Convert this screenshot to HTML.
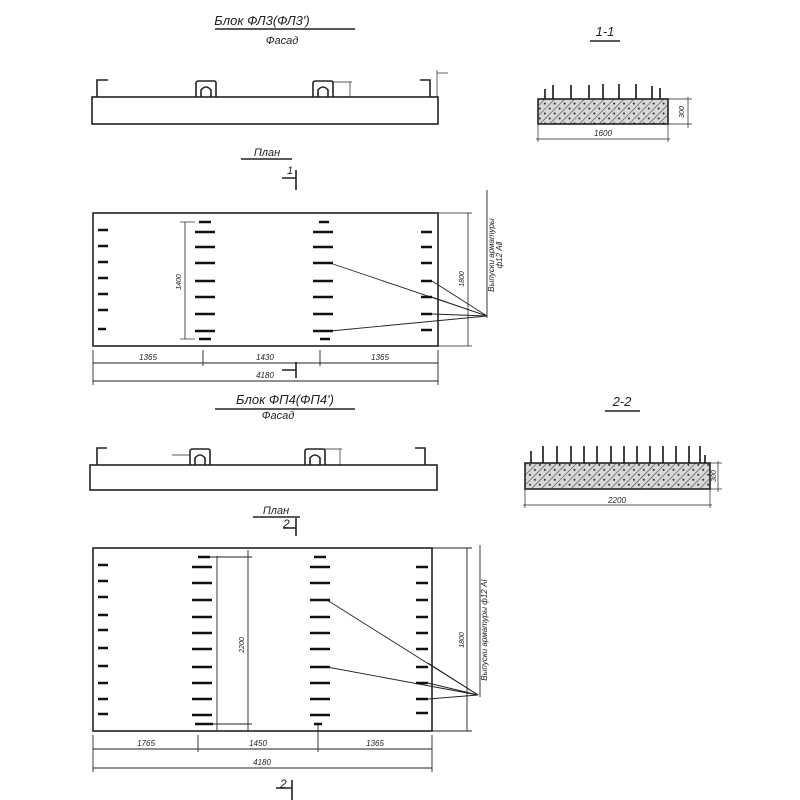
<!DOCTYPE html>
<html><head><meta charset="utf-8"><style>
html,body{margin:0;padding:0;background:#fff}
svg{display:block}
text{font-family:"Liberation Sans","DejaVu Sans",sans-serif;font-style:italic;fill:#222}
</style></head><body>
<svg width="800" height="800" viewBox="0 0 800 800" xmlns="http://www.w3.org/2000/svg">
<defs>
<pattern id="h" width="7" height="7" patternUnits="userSpaceOnUse" patternTransform="rotate(45)">
<rect width="7" height="7" fill="#d8d8d8"/><line x1="0" y1="0" x2="0" y2="7" stroke="#444" stroke-width="1.2"/>
<circle cx="3.5" cy="3" r="1" fill="#222"/></pattern>
</defs>
<g stroke="#222" fill="none" stroke-width="1.6">
<!-- Top facade -->
<line x1="215" y1="29" x2="355" y2="29"/>
<rect x="92" y="97" width="346" height="27"/>
<path d="M97 97 V80 H108"/><path d="M430 97 V80 H420"/>
<path d="M196 97 V83 Q196 81 199 81 H214 Q216 81 216 83 V97 M201 97 V90 Q206 84 211 90 V97"/>
<path d="M313 97 V83 Q313 81 316 81 H331 Q333 81 333 83 V97 M318 97 V90 Q323 84 328 90 V97"/>
<line x1="333" y1="82" x2="352" y2="82" stroke-width="0.7"/>
<line x1="350" y1="82" x2="350" y2="97" stroke-width="0.7"/>
<line x1="437" y1="73" x2="448" y2="73" stroke-width="0.7"/>
<line x1="437" y1="70" x2="437" y2="97" stroke-width="0.7"/>
<line x1="241" y1="159" x2="292" y2="159"/>
<path d="M282 178 H296 M296 170 V190"/>
<!-- Plan 1 -->
<rect x="93" y="213" width="345" height="133"/>
<line x1="185" y1="222" x2="185" y2="339" stroke-width="0.8"/>
<line x1="180" y1="222" x2="195" y2="222" stroke-width="0.7"/>
<line x1="180" y1="339" x2="195" y2="339" stroke-width="0.7"/>
<line x1="468" y1="213" x2="468" y2="346" stroke-width="0.8"/>
<line x1="438" y1="213" x2="472" y2="213" stroke-width="0.7"/>
<line x1="438" y1="346" x2="472" y2="346" stroke-width="0.7"/>
<g stroke-width="0.9">
<line x1="330" y1="263" x2="487" y2="316"/><line x1="330" y1="331" x2="487" y2="316"/>
<line x1="432" y1="281" x2="487" y2="316"/><line x1="432" y1="297" x2="487" y2="316"/><line x1="432" y1="314" x2="487" y2="316"/>
<line x1="487" y1="190" x2="487" y2="318"/>
<line x1="93" y1="363" x2="438" y2="363"/><line x1="93" y1="381" x2="438" y2="381"/>
<line x1="93" y1="350" x2="93" y2="385"/><line x1="203" y1="350" x2="203" y2="366"/><line x1="320" y1="350" x2="320" y2="366"/><line x1="438" y1="350" x2="438" y2="385"/>
</g>
<path d="M282 370 H296 M296 362 V378"/>
<!-- Section 1-1 -->
<line x1="590" y1="41" x2="620" y2="41"/>
<rect x="538" y="99" width="130" height="25" fill="url(#h)"/>
<g stroke-width="1.7"><line x1="545" y1="99" x2="545" y2="89"/><line x1="553" y1="99" x2="553" y2="85"/><line x1="571" y1="99" x2="571" y2="85"/><line x1="589" y1="99" x2="589" y2="85"/><line x1="603" y1="99" x2="603" y2="84"/><line x1="619" y1="99" x2="619" y2="84"/><line x1="636" y1="99" x2="636" y2="84"/><line x1="652" y1="99" x2="652" y2="86"/><line x1="660" y1="99" x2="660" y2="88"/></g>
<g stroke-width="0.7"><line x1="668" y1="99" x2="692" y2="99"/><line x1="668" y1="124" x2="692" y2="124"/><line x1="688" y1="97" x2="688" y2="128"/>
<line x1="538" y1="124" x2="538" y2="142"/><line x1="668" y1="124" x2="668" y2="142"/><line x1="536" y1="139" x2="670" y2="139"/></g>
<!-- Second facade -->
<line x1="215" y1="409" x2="355" y2="409"/>
<rect x="90" y="465" width="347" height="25"/>
<path d="M97 465 V448 H107"/><path d="M425 465 V448 H415"/>
<path d="M190 465 V451 Q190 449 193 449 H208 Q210 449 210 451 V465 M195 465 V458 Q200 452 205 458 V465"/>
<path d="M305 465 V451 Q305 449 308 449 H323 Q325 449 325 451 V465 M310 465 V458 Q315 452 320 458 V465"/>
<line x1="325" y1="449" x2="342" y2="449" stroke-width="0.7"/><line x1="340" y1="449" x2="340" y2="465" stroke-width="0.7"/>
<line x1="172" y1="455" x2="190" y2="455" stroke-width="0.7"/>
<line x1="253" y1="517" x2="300" y2="517"/>
<path d="M283 528 H296 M296 518 V536"/>
<!-- Section 2-2 -->
<line x1="605" y1="411" x2="640" y2="411"/>
<rect x="525" y="463" width="185" height="26" fill="url(#h)"/>
<g stroke-width="1.7"><line x1="531" y1="463" x2="531" y2="451"/><line x1="543" y1="463" x2="543" y2="446"/><line x1="557" y1="463" x2="557" y2="446"/><line x1="571" y1="463" x2="571" y2="446"/><line x1="584" y1="463" x2="584" y2="446"/><line x1="597" y1="463" x2="597" y2="446"/><line x1="611" y1="463" x2="611" y2="446"/><line x1="624" y1="463" x2="624" y2="446"/><line x1="637" y1="463" x2="637" y2="446"/><line x1="650" y1="463" x2="650" y2="446"/><line x1="663" y1="463" x2="663" y2="446"/><line x1="676" y1="463" x2="676" y2="446"/><line x1="689" y1="463" x2="689" y2="446"/><line x1="700" y1="463" x2="700" y2="446"/><line x1="705" y1="463" x2="705" y2="455"/></g>
<g stroke-width="0.7"><line x1="710" y1="463" x2="722" y2="463"/><line x1="710" y1="489" x2="722" y2="489"/><line x1="718" y1="461" x2="718" y2="492"/>
<line x1="525" y1="489" x2="525" y2="508"/><line x1="710" y1="489" x2="710" y2="508"/><line x1="523" y1="505" x2="712" y2="505"/></g>
<!-- Plan 2 -->
<rect x="93" y="548" width="339" height="183"/>
<g stroke-width="0.9">
<line x1="217" y1="556" x2="217" y2="731"/><line x1="248" y1="550" x2="248" y2="731"/>
<line x1="205" y1="557" x2="252" y2="557"/><line x1="205" y1="724" x2="252" y2="724"/>
<line x1="467" y1="548" x2="467" y2="731"/>
<line x1="432" y1="548" x2="472" y2="548"/><line x1="432" y1="731" x2="472" y2="731"/>
<line x1="327" y1="600" x2="478" y2="695"/><line x1="327" y1="667" x2="478" y2="695"/>
<line x1="428" y1="663" x2="478" y2="695"/><line x1="428" y1="683" x2="478" y2="695"/><line x1="428" y1="699" x2="478" y2="695"/>
<line x1="480" y1="545" x2="480" y2="697"/>
<line x1="93" y1="749" x2="432" y2="749"/><line x1="93" y1="768" x2="432" y2="768"/>
<line x1="93" y1="735" x2="93" y2="772"/><line x1="198" y1="735" x2="198" y2="752"/><line x1="318" y1="725" x2="318" y2="752"/><line x1="432" y1="735" x2="432" y2="772"/>
</g>
<path d="M276 788 H292 M292 780 V800"/>
</g>
<!-- Rebar dashes -->
<g stroke="#111" stroke-width="2.4">
<path d="M98 230h10M98 246h10M98 262h10M98 278h10M98 294h10M98 310h10M98 329h8"/>
<path d="M199 222h12M195 232h20M195 247h20M195 263h20M195 281h20M195 297h20M195 314h20M195 331h20M199 339h12"/>
<path d="M319 222h10M313 232h20M313 247h20M313 263h20M313 281h20M313 297h20M313 314h20M313 331h20M320 339h10"/>
<path d="M421 232h11M421 247h11M421 263h11M421 281h11M421 297h11M421 314h11M421 330h11"/>
<path d="M98 565h10M98 581h10M98 597h10M98 615h10M98 630h10M98 648h10M98 666h10M98 683h10M98 699h10M98 714h10"/>
<path d="M198 557h12M192 567h20M192 583h20M192 600h20M192 617h20M192 633h20M192 649h20M192 667h20M192 683h20M192 699h20M192 715h20M195 724h18"/>
<path d="M314 557h12M310 567h20M310 583h20M310 600h20M310 617h20M310 633h20M310 649h20M310 667h20M310 683h20M310 699h20M310 715h20M314 724h8"/>
<path d="M416 567h12M416 583h12M416 600h12M416 617h12M416 633h12M416 649h12M416 667h12M416 683h12M416 699h12M416 713h12"/>
</g>
<!-- Text -->
<text x="262" y="25" font-size="13" text-anchor="middle">Блок ФЛ3(ФЛ3')</text>
<text x="282" y="44" font-size="11" text-anchor="middle">Фасад</text>
<text x="267" y="156" font-size="11" text-anchor="middle">План</text>
<text x="287" y="174" font-size="11">1</text>
<text x="605" y="36" font-size="13" text-anchor="middle">1-1</text>
<text x="603" y="136" font-size="8" text-anchor="middle">1600</text>
<text x="684" y="112" font-size="7" text-anchor="middle" transform="rotate(-90 684 112)">300</text>
<text x="181" y="282" font-size="7" text-anchor="middle" transform="rotate(-90 181 282)">1400</text>
<text x="464" y="279" font-size="7" text-anchor="middle" transform="rotate(-90 464 279)">1800</text>
<text x="494" y="255" font-size="8" text-anchor="middle" transform="rotate(-90 494 255)">Выпуски арматуры</text>
<text x="502" y="255" font-size="8" text-anchor="middle" transform="rotate(-90 502 255)">ф12 АⅡ</text>
<text x="148" y="360" font-size="8" text-anchor="middle">1365</text>
<text x="265" y="360" font-size="8" text-anchor="middle">1430</text>
<text x="380" y="360" font-size="8" text-anchor="middle">1365</text>
<text x="265" y="378" font-size="8" text-anchor="middle">4180</text>
<text x="285" y="404" font-size="13" text-anchor="middle">Блок ФП4(ФП4')</text>
<text x="278" y="419" font-size="11" text-anchor="middle">Фасад</text>
<text x="622" y="406" font-size="13" text-anchor="middle">2-2</text>
<text x="617" y="503" font-size="8" text-anchor="middle">2200</text>
<text x="716" y="476" font-size="7" text-anchor="middle" transform="rotate(-90 716 476)">300</text>
<text x="276" y="514" font-size="11" text-anchor="middle">План</text>
<text x="283" y="528" font-size="12">2</text>
<text x="244" y="645" font-size="7" text-anchor="middle" transform="rotate(-90 244 645)">2200</text>
<text x="464" y="640" font-size="7" text-anchor="middle" transform="rotate(-90 464 640)">1800</text>
<text x="487" y="630" font-size="8" text-anchor="middle" transform="rotate(-90 487 630)">Выпуски арматуры ф12 АⅠ</text>
<text x="146" y="746" font-size="8" text-anchor="middle">1765</text>
<text x="258" y="746" font-size="8" text-anchor="middle">1450</text>
<text x="375" y="746" font-size="8" text-anchor="middle">1365</text>
<text x="262" y="765" font-size="8" text-anchor="middle">4180</text>
<text x="280" y="788" font-size="12">2</text>
</svg>
</body></html>
